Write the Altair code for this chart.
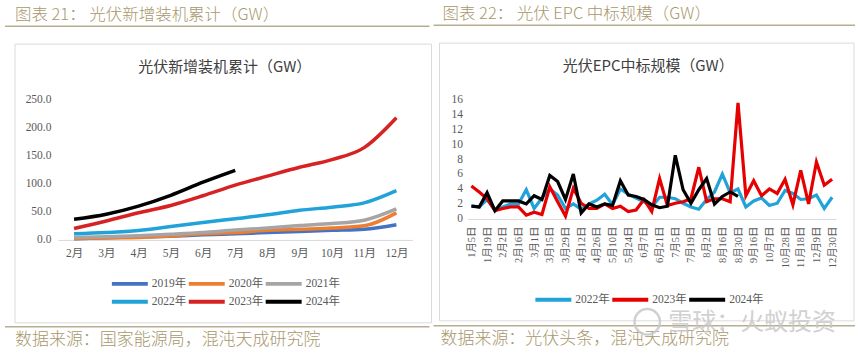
import altair as alt
import pandas as pd

# ---------------- left panel data ----------------
months = ["2月", "3月", "4月", "5月", "6月", "7月", "8月", "9月", "10月", "11月", "12月"]
cum2019 = [2.0, 4.0, 5.0, 6.5, 9.0, 11.0, 13.0, 15.0, 17.0, 19.0, 27.0]
cum2020 = [2.5, 3.5, 4.5, 7.0, 11.0, 13.0, 17.0, 19.0, 21.0, 25.0, 48.0]
cum2021 = [4.5, 5.5, 7.5, 10.0, 13.0, 17.5, 21.0, 25.5, 29.0, 35.0, 55.0]
cum2022 = [10.9, 13.2, 16.9, 23.7, 30.9, 37.7, 44.5, 52.6, 58.2, 65.7, 87.4]
cum2023 = [20.4, 33.7, 48.3, 61.2, 78.4, 97.2, 113.2, 128.9, 142.6, 163.9, 216.9]
cum2024 = [36.7, 45.7, 60.1, 79.2, 102.5, 123.5]
years_left = ["2019年", "2020年", "2021年", "2022年", "2023年", "2024年"]
colors_left = ["#4472C4", "#ED7D31", "#A5A5A5", "#21A3DA", "#D62222", "#000000"]

# ---------------- right panel data ----------------
dates = ["1月5日", "1月12日", "1月19日", "1月26日", "2月2日", "2月9日", "2月16日", "2月23日",
         "3月1日", "3月8日", "3月15日", "3月22日", "3月29日", "4月5日", "4月12日", "4月19日",
         "4月26日", "5月3日", "5月10日", "5月17日", "5月24日", "5月31日", "6月7日", "6月14日",
         "6月21日", "6月28日", "7月5日", "7月12日", "7月19日", "7月26日", "8月2日", "8月9日",
         "8月16日", "8月23日", "8月30日", "9月6日", "9月16日", "9月27日", "10月7日", "10月18日",
         "10月28日", "11月8日", "11月18日", "11月29日", "12月9日", "12月20日", "12月30日"]
date_ticks = ["1月5日", "1月19日", "2月2日", "2月16日", "3月1日", "3月15日", "3月29日", "4月12日",
              "4月26日", "5月10日", "5月24日", "6月7日", "6月21日", "7月5日", "7月19日", "8月2日",
              "8月16日", "8月30日", "9月16日", "10月7日", "10月28日", "11月18日", "12月9日", "12月30日"]
epc2022 = [1.8, 1.6, 2.6, 1.2, 1.6, 2.0, 2.0, 3.9, 1.4, 2.8, 4.0, 3.2, 1.4, 2.0, 1.3, 2.0,
           2.5, 3.3, 1.9, 4.0, 3.3, 2.8, 2.3, 1.6, 2.9, 2.9, 2.7, 2.1, 1.6, 1.3, 2.6, 3.6,
           6.0, 3.5, 4.0, 1.6, 2.4, 2.8, 1.8, 2.1, 3.8, 3.4, 2.6, 2.7, 3.2, 1.4, 2.9]
epc2023 = [4.4, 3.6, 2.7, 1.1, 1.4, 1.6, 1.6, 0.5, 0.9, 0.6, 4.3, 2.3, 0.4, 4.1, 2.1, 1.4,
           1.4, 2.0, 1.4, 1.7, 1.0, 1.2, 2.6, 1.0, 5.4, 1.8, 2.1, 2.3, 2.7, 6.9, 2.3, 2.7,
           2.7, 2.3, 15.5, 3.1, 5.1, 3.1, 4.0, 3.4, 5.3, 1.9, 6.5, 2.0, 7.6, 4.5, 5.3]
epc2024 = [1.7, 1.6, 3.5, 1.1, 2.4, 2.4, 2.4, 2.0, 3.1, 2.6, 5.8, 5.0, 2.6, 6.0, 0.8, 2.0,
           1.6, 2.0, 1.8, 5.1, 3.2, 3.0, 2.6, 1.9, 1.5, 1.7, 8.5, 3.9, 2.1, 3.9, 5.4, 2.0,
           3.0, 3.6, 3.0]
years_right = ["2022年", "2023年", "2024年"]
colors_right = ["#21A3DA", "#E60000", "#000000"]

SERIF = "Liberation Serif, Noto Sans CJK SC"
CJK = "Noto Sans CJK SC"
TAN = "#A8976C"
LABEL = "#595959"

rows = []
for yr, vals in zip(years_left, [cum2019, cum2020, cum2021, cum2022, cum2023, cum2024]):
    for m, v in zip(months, vals):
        rows.append({"month": m, "year": yr, "value": v})
df_left = pd.DataFrame(rows)

rows = []
for yr, vals in zip(years_right, [epc2022, epc2023, epc2024]):
    for d, v in zip(dates, vals):
        rows.append({"date": d, "year": yr, "value": v})
df_right = pd.DataFrame(rows)

one = pd.DataFrame({"k": [0]})


def deco(ox, oy, page_x0, page_x1, header, header_x, footer, footer_x, title, title_cx, box):
    L = []
    # invisible frame that fixes the panel bounds
    L.append(alt.Chart(one).mark_rect(fillOpacity=0, strokeWidth=0, fill="white").encode(
        x=alt.value(page_x0 - ox), x2=alt.value(page_x1 - ox),
        y=alt.value(0 - oy), y2=alt.value(353 - oy)))
    # header
    L.append(alt.Chart(one).mark_text(align="left", baseline="middle", font=CJK, fontSize=16.5,
                                      fontWeight=300, color=TAN).encode(
        x=alt.value(header_x - ox), y=alt.value(14 - oy), text=alt.value(header)))
    L.append(alt.Chart(one).mark_rule(color="#B7AD90", strokeWidth=1.5).encode(
        x=alt.value(box[4] - ox), x2=alt.value(box[5] - ox), y=alt.value(25 - oy)))
    # box
    L.append(alt.Chart(one).mark_rect(fillOpacity=0, fill="white", stroke="#DADADA", strokeWidth=1).encode(
        x=alt.value(box[0] - ox), x2=alt.value(box[1] - ox),
        y=alt.value(box[2] - oy), y2=alt.value(box[3] - oy)))
    # footer
    L.append(alt.Chart(one).mark_rule(color="#B7AD90", strokeWidth=1.5).encode(
        x=alt.value(box[4] - ox), x2=alt.value(box[5] - ox), y=alt.value(326 - oy)))
    L.append(alt.Chart(one).mark_text(align="left", baseline="middle", font=CJK, fontSize=17,
                                      fontWeight=300, color=TAN).encode(
        x=alt.value(footer_x - ox), y=alt.value(339 - oy), text=alt.value(footer)))
    # chart title
    L.append(alt.Chart(one).mark_text(align="center", baseline="middle", font=CJK, fontSize=15,
                                      color="#404040").encode(
        x=alt.value(title_cx - ox), y=alt.value(66 - oy), text=alt.value(title)))
    return L


def legend(lx, ly):
    return alt.Legend(title=None, orient="none", legendX=lx, legendY=ly, direction="horizontal",
                      columns=3, symbolType="M-3,0H3", symbolSize=144,
                      symbolStrokeWidth=4, symbolOffset=10, labelOffset=14,
                      columnPadding=-6, rowPadding=2, padding=0,
                      labelFont=SERIF, labelFontSize=11.5, labelColor=LABEL)


# ---------------- left panel ----------------
LOX, LOY = 58, 98
left_lines = alt.Chart(df_left).mark_line(strokeWidth=3.5, interpolate="monotone").encode(
    x=alt.X("month:N", sort=months, scale=alt.Scale(type="point", padding=0.5),
            axis=alt.Axis(title=None, labelAngle=0, ticks=False, domainColor="#D9D9D9",
                          labelFont=SERIF, labelFontSize=11.5, labelColor=LABEL, labelPadding=8)),
    y=alt.Y("value:Q", scale=alt.Scale(domain=[0, 250], nice=False),
            axis=alt.Axis(title=None, values=[0, 50, 100, 150, 200, 250], format=".1f",
                          grid=False, ticks=False, domain=False, labelFont=SERIF,
                          labelFontSize=11.5, labelColor=LABEL, labelPadding=7)),
    color=alt.Color("year:N", scale=alt.Scale(domain=years_left, range=colors_left),
                    legend=legend(54, 177)),
)
left = alt.layer(
    *deco(LOX, LOY, 0, 433, "图表 21：\u00a0光伏新增装机累计（GW）", 15,
          "数据来源：国家能源局，混沌天成研究院", 15, "光伏新增装机累计（GW）", 225,
          (15, 432, 43, 322, 5, 430)),
    left_lines,
).properties(width=355, height=141)

# ---------------- right panel ----------------
ROX, ROY = 467, 99
right_lines = alt.Chart(df_right).mark_line(strokeWidth=3.2).encode(
    x=alt.X("date:N", sort=dates, scale=alt.Scale(type="point", padding=0.5),
            axis=alt.Axis(title=None, values=date_ticks, labelAngle=270, ticks=False,
                          domainColor="#D9D9D9", labelOverlap=False, labelFont=SERIF,
                          labelFontSize=10.5, labelColor=LABEL, labelPadding=7)),
    y=alt.Y("value:Q", scale=alt.Scale(domain=[0, 16], nice=False),
            axis=alt.Axis(title=None, values=[0, 2, 4, 6, 8, 10, 12, 14, 16], grid=False,
                          ticks=False, domain=False, labelFont=SERIF, labelFontSize=11.5,
                          labelColor=LABEL, labelPadding=5)),
    color=alt.Color("year:N", scale=alt.Scale(domain=years_right, range=colors_right),
                    legend=legend(68, 193)),
)
watermark = alt.Chart(one).mark_text(align="left", baseline="middle", font=CJK, fontSize=24,
                                     color="#C9C9C9", opacity=0.85).encode(
    x=alt.value(668 - ROX), y=alt.value(323 - ROY), text=alt.value("雪球：火蚁投资"))
logo = alt.Chart(one).mark_point(shape="circle", size=650, filled=False, color="#C9C9C9",
                                 strokeWidth=2.5, opacity=0.85).encode(
    x=alt.value(647 - ROX), y=alt.value(322 - ROY))
right = alt.layer(
    *deco(ROX, ROY, 433, 863, "图表 22：\u00a0光伏 EPC 中标规模（GW）", 442,
          "数据来源：光伏头条，混沌天成研究院", 440, "光伏EPC中标规模（GW）", 648,
          (439, 854, 43, 321, 433, 855)),
    right_lines, watermark, logo,
).properties(width=369, height=120)

chart = alt.hconcat(left, right, spacing=0).resolve_scale(
    color="independent").resolve_legend(color="independent").properties(
    padding=0, background="white").configure_view(strokeWidth=0)

chart.save("out.html", embed_options={"renderer": "svg", "actions": False})
